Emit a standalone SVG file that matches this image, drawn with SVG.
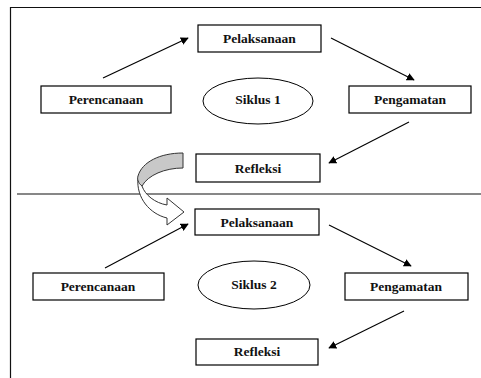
<svg xmlns="http://www.w3.org/2000/svg" width="481" height="378" viewBox="0 0 481 378">
<style>
.box{fill:#fff;stroke:#000;stroke-width:1.2}
.t{font-family:"Liberation Serif","Times New Roman",serif;font-weight:bold;font-size:13.5px;text-anchor:middle;fill:#111}
.c{stroke:#000;stroke-width:1.1;fill:none;marker-end:url(#ah)}
.frame{stroke:#111;stroke-width:1.2;fill:none}
</style>
<defs>
<marker id="ah" viewBox="0 0 10 10" refX="9" refY="5" markerWidth="8" markerHeight="8" markerUnits="userSpaceOnUse" orient="auto">
<path d="M0,0 L10,5 L0,10 Z" fill="#000"/>
</marker>
</defs>
<rect width="481" height="378" fill="#fff"/>
<g id="frame">
<path class="frame" d="M10.5,378 V7.5 H481"/>
<line class="frame" x1="17" y1="194" x2="481" y2="194"/>
</g>
<g id="connectors">
<line class="c" x1="103" y1="78" x2="188" y2="38"/>
<line class="c" x1="331" y1="38" x2="414" y2="80"/>
<line class="c" x1="409" y1="122" x2="329" y2="163"/>
<line class="c" x1="105" y1="268" x2="188" y2="224"/>
<line class="c" x1="329" y1="225" x2="411" y2="266"/>
<line class="c" x1="404" y1="311" x2="329" y2="348"/>
<g id="cycle-arrow" stroke="#333" stroke-width="1">
<path d="M138,178 C136,198 150,214 167,218 L167,225 L184,212 L167,198 L167,205 C155,203 145,195 142,186 Z" fill="#fff"/>
<path d="M183,153 L183,168 C165,168 148,175 142,186 C138,183 137,179 138,176 C142,162 160,153 183,153 Z" fill="#c8c8c8"/>
</g>
</g>
<g id="pelaksanaan1"><rect class="box" x="198" y="25" width="123" height="27"/><text class="t" x="259.5" y="43">Pelaksanaan</text></g>
<g id="perencanaan1"><rect class="box" x="41" y="86" width="130" height="27"/><text class="t" x="106" y="104">Perencanaan</text></g>
<g id="siklus1"><ellipse cx="258" cy="101" rx="55" ry="23" fill="#fff" stroke="#000" stroke-width="1"/><text class="t" x="258" y="104">Siklus 1</text></g>
<g id="pengamatan1"><rect class="box" x="349" y="86" width="122" height="27"/><text class="t" x="410" y="104">Pengamatan</text></g>
<g id="refleksi1"><rect class="box" x="196" y="154" width="124" height="28"/><text class="t" x="258" y="173">Refleksi</text></g>
<g id="pelaksanaan2"><rect class="box" x="195" y="209" width="124" height="26"/><text class="t" x="257" y="227">Pelaksanaan</text></g>
<g id="perencanaan2"><rect class="box" x="33" y="273" width="131" height="27"/><text class="t" x="98" y="291">Perencanaan</text></g>
<g id="siklus2"><ellipse cx="254" cy="285" rx="56" ry="24" fill="#fff" stroke="#000" stroke-width="1"/><text class="t" x="254" y="289">Siklus 2</text></g>
<g id="pengamatan2"><rect class="box" x="345" y="273" width="123" height="27"/><text class="t" x="406" y="291">Pengamatan</text></g>
<g id="refleksi2"><rect class="box" x="196" y="339" width="122" height="26"/><text class="t" x="257" y="356">Refleksi</text></g>
</svg>
